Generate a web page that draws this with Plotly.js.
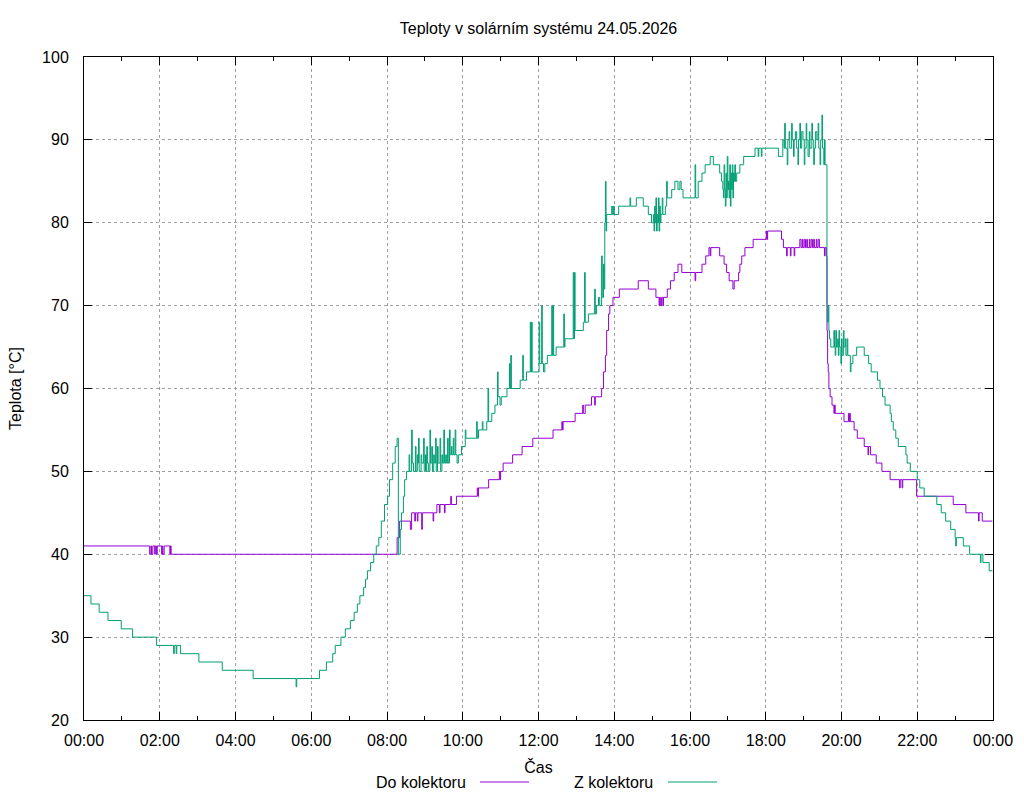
<!DOCTYPE html>
<html>
<head>
<meta charset="utf-8">
<script src="https://cdn.plot.ly/plotly-3.0.1.min.js"></script>
<style>html,body{margin:0;padding:0;background:#fff;}#chart{width:1024px;height:800px;}</style>
</head>
<body>
<div id="chart"></div>
<script>
// Time ("HH:MM") and temperature (°C) step points
const chartDate = "2026-05-24";
const seriesNames = ["Do kolektoru", "Z kolektoru"];
const xTickLabels = ["00:00","02:00","04:00","06:00","08:00","10:00","12:00","14:00","16:00","18:00","20:00","22:00","00:00"];

const doKolektoru = [
["00:00",41],["01:44",40],["01:46",41],["01:47",40],["01:49",41],["01:52",40],["01:53",41],["01:55",40],["01:56",41],["02:03",40],["02:04",41],["02:05",40],["02:07",41],["02:16",40],["02:17",41],["02:18",40],
["08:16",42],["08:20",44],["08:37",43],["08:39",45],["08:44",44],["08:45",45],["08:48",44],["08:49",45],["08:55",43],["08:56",45],["09:13",44],["09:14",45],["09:19",46],["09:23",45],["09:24",46],["09:31",45],["09:32",46],["09:41",47],["09:42",46],["09:50",47],
["10:23",48],["10:24",47],["10:25",48],["10:41",49],["10:58",50],["10:59",49],["11:00",50],["11:04",51],["11:19",52],["11:34",53],["11:51",54],["12:23",55],["12:37",56],["12:38",55],["12:39",56],["12:58",57],["13:10",58],["13:11",57],["13:14",58],["13:24",59],["13:29",58],["13:30",59],
["13:40",60],["13:43",62],["13:46",64],["13:48",67],["13:51",69],["13:53",70],["13:58",71],["14:08",72],["14:38",73],["14:54",72],["15:06",71],["15:11",70],["15:12",71],["15:13",70],["15:15",71],["15:17",70],["15:18",71],["15:24",72],["15:29",73],["15:35",74],["15:41",75],["15:47",74],["16:08",73],["16:09",74],["16:19",75],["16:25",76],["16:30",77],["16:32",76],["16:33",77],["16:47",76],["16:54",75],["16:58",74],["17:02",73],["17:08",72],["17:10",73],["17:17",74],["17:19",75],["17:22",76],["17:27",77],["17:40",78],["18:01",79],["18:02",78],["18:03",79],["18:25",78],["18:28",77],["18:33",76],["18:34",77],["18:39",76],["18:40",77],["18:45",76],["18:46",77],
["18:54",78],["18:56",77],["18:58",78],["18:59",77],["19:01",78],["19:03",77],["19:05",78],["19:06",77],["19:09",78],["19:10",77],["19:12",78],["19:14",77],["19:16",78],["19:17",77],["19:20",78],["19:21",77],["19:23",78],["19:25",77],["19:33",76],["19:34",77],["19:36",76],
["19:37",67],["19:38",63],["19:39",62],["19:40",60],["19:42",59],["19:45",58],["19:48",57],["19:49",58],["19:50",57],["20:04",56],["20:11",57],["20:12",56],["20:13",57],["20:14",56],["20:20",55],["20:25",54],["20:36",53],["20:42",52],["20:43",53],["20:46",52],["20:55",51],["21:04",50],["21:17",49],["21:32",48],["21:33",49],["21:36",48],["21:37",49],["21:59",47],["22:57",46],["23:17",45],["23:37",44],["23:38",45],["23:43",44],["23:59",44]
];

const zKolektoru = [
["00:00",35],["00:11",34],["00:24",33],["00:38",32],["00:59",31],["01:17",30],["01:55",29],["02:22",28],["02:23",29],["02:26",28],["02:27",29],["02:33",28],["03:02",27],["03:39",26],["04:28",25],["05:36",24],["05:37",25],
["06:13",26],["06:24",27],["06:34",28],["06:38",29],["06:47",30],["06:54",31],["07:02",32],["07:08",33],["07:13",34],["07:17",35],["07:23",36],["07:26",37],["07:29",38],["07:34",39],["07:39",40],["07:43",41],["07:47",42],["07:51",44],["07:56",46],["08:01",47],["08:04",49],["08:09",51],["08:13",53],["08:16",54],["08:18",40],["08:21",43],["08:23",45],["08:26",47],["08:28",49],["08:31",50],
["08:35",52],["08:36",50],["08:39",55],["08:40",51],["08:42",50],["08:45",53],["08:46",50],["08:48",52],["08:49",51],["08:50",54],["08:51",50],["08:54",52],["08:55",51],["08:58",54],["08:59",50],["09:01",52],["09:02",50],["09:03",53],["09:04",51],["09:06",50],["09:08",55],["09:09",51],["09:11",53],["09:12",50],["09:14",52],["09:15",51],["09:17",54],["09:18",50],["09:20",53],["09:21",51],["09:24",54],["09:25",50],["09:27",52],["09:28",51],["09:30",55],["09:31",51],["09:33",52],["09:34",51],["09:36",54],["09:37",51],["09:39",55],["09:40",52],["09:42",53],["09:43",52],["09:45",54],["09:46",52],["09:48",55],["09:49",52],["09:51",51],["09:53",52],["09:58",53],
["10:04",55],["10:05",54],["10:22",56],["10:23",54],["10:25",55],["10:31",56],["10:32",55],["10:38",56],["10:40",60],["10:41",56],["10:46",57],["10:51",58],["10:55",62],["10:56",59],["10:59",58],["11:01",59],["11:10",60],["11:14",63],["11:15",60],["11:16",64],["11:17",60],["11:31",61],["11:35",64],["11:36",61],["11:41",62],["11:47",68],["11:48",62],["11:49",68],["11:50",62],
["12:01",68],["12:02",63],["12:05",70],["12:06",63],["12:08",62],["12:10",63],["12:14",64],["12:21",70],["12:22",64],["12:23",70],["12:24",64],["12:28",65],["12:40",69],["12:41",65],["12:42",66],["12:55",74],["12:56",66],["12:57",74],["12:58",67],["13:11",68],["13:13",74],["13:14",68],["13:19",69],["13:29",72],["13:30",69],["13:32",70],["13:35",71],["13:37",70],["13:40",76],["13:41",71],["13:43",75],["13:44",72],["13:45",80],["13:46",85],["13:47",79],["13:48",81],
["13:56",82],["13:57",81],["13:59",82],["14:00",81],["14:07",82],["14:25",83],["14:26",82],["14:35",83],["14:46",82],["14:54",81],["14:59",80],["15:02",81],["15:03",79],["15:04",82],["15:05",80],["15:06",83],["15:07",79],["15:08",81],["15:09",80],["15:10",83],["15:11",79],["15:12",82],["15:13",80],["15:14",81],["15:16",83],["15:17",81],["15:21",82],["15:23",85],["15:24",83],["15:31",84],["15:36",85],["15:41",84],["15:44",85],["15:46",84],["15:49",83],
["16:08",87],["16:09",83],["16:13",85],["16:19",86],["16:24",87],["16:32",88],["16:37",87],["16:47",86],["16:50",85],["16:52",84],["16:53",83],["16:54",87],["16:55",84],["16:56",82],["16:57",86],["16:58",83],["16:59",88],["17:00",84],["17:01",85],["17:02",83],["17:03",87],["17:04",82],["17:05",86],["17:06",84],["17:07",87],["17:08",83],["17:09",86],["17:10",85],["17:11",87],["17:12",85],["17:14",86],["17:19",87],["17:25",88],["17:43",89],["17:48",88],["17:49",89],["17:53",88],["17:54",89],["18:20",88],
["18:25",88],["18:27",90],["18:29",89],["18:30",92],["18:31",89],["18:34",87],["18:35",90],["18:37",91],["18:38",89],["18:41",92],["18:42",90],["18:44",88],["18:45",90],["18:47",91],["18:49",89],["18:51",87],["18:52",90],["18:54",92],["18:55",89],["18:57",91],["18:59",90],
["19:01",87],["19:02",89],["19:04",92],["19:05",90],["19:07",88],["19:09",91],["19:10",89],["19:13",92],["19:14",90],["19:16",87],["19:17",89],["19:19",91],["19:21",90],["19:23",92],["19:24",89],["19:26",87],["19:27",90],["19:29",93],["19:30",89],["19:32",87],["19:33",90],["19:34",87],
["19:37",70],["19:38",68],["19:39",70],["19:40",67],["19:41",66],["19:43",65],["19:48",67],["19:49",65],["19:50",64],["19:51",67],["19:52",65],["19:54",66],["19:55",64],["19:56",67],["19:57",65],["19:59",63],["20:00",66],["20:01",64],["20:03",67],["20:04",65],["20:06",66],["20:07",64],["20:09",66],["20:10",64],["20:14",62],["20:15",63],["20:18",64],["20:24",65],["20:36",64],["20:43",63],["20:47",62],["20:57",61],
["21:01",60],["21:05",59],["21:09",58],["21:17",57],["21:19",56],["21:22",55],["21:26",54],["21:30",53],["21:42",52],["21:44",51],["21:49",50],["22:00",49],["22:04",48],["22:11",47],["22:31",46],["22:38",45],["22:45",44],["22:53",43],["23:00",42],["23:01",41],["23:02",42],["23:13",41],["23:23",40],["23:40",39],["23:41",40],["23:44",39],["23:54",38],["23:59",38]
];

const colors = ["#9400d3", "#009e73"];

function toX(t){ return chartDate + " " + t; }

const traces = [doKolektoru, zKolektoru].map(function(s, i){
  return {
    type: "scatter", mode: "lines", name: seriesNames[i],
    x: s.map(function(p){ return toX(p[0]); }),
    y: s.map(function(p){ return p[1]; }),
    line: {color: colors[i], width: 1, shape: "hv"},
    showlegend: false, hoverinfo: "skip"
  };
});

const tickVals = xTickLabels.map(function(l, i){
  const d = new Date(Date.UTC(2026, 4, 24, i*2, 0));
  return d.toISOString().slice(0,10) + " " + d.toISOString().slice(11,16);
});

const gridStyle = {gridcolor: "#a0a0a0", griddash: "3px,3px", gridwidth: 1};
const fs = 16;
const legendY = (720-782)/663;

const layout = {
  width: 1024, height: 800,
  margin: {l: 84, r: 31, t: 57, b: 80},
  paper_bgcolor: "#ffffff", plot_bgcolor: "#ffffff",
  font: {family: "Liberation Sans, Arial, sans-serif", size: fs, color: "#000"},
  title: {text: "Teploty v solárním systému 24.05.2026", x: 0.5, xref: "paper", y: 1 - 28/800, yref: "container", yanchor: "middle", xanchor: "center", font: {size: fs, color: "#000"}},
  xaxis: Object.assign({
    type: "date",
    range: [toX("00:00"), "2026-05-25 00:00"],
    tickmode: "array", tickvals: tickVals, ticktext: xTickLabels,
    ticks: "inside", ticklen: 8, tickcolor: "#000", tickwidth: 1,
    showline: true, linecolor: "#000", linewidth: 1, mirror: "ticks",
    showgrid: true, zeroline: false,
    minor: {dtick: 3600000, tick0: toX("00:00"), ticks: "inside", ticklen: 4, tickcolor: "#000", showgrid: false},
    ticklabelstandoff: 6,
    title: {text: "Čas", standoff: 13, font: {size: fs}}
  }, gridStyle),
  yaxis: Object.assign({
    range: [20, 100], dtick: 10, tick0: 20,
    ticks: "inside", ticklen: 8, tickcolor: "#000", tickwidth: 1,
    showline: true, linecolor: "#000", linewidth: 1, mirror: "ticks",
    showgrid: true, zeroline: false,
    ticklabelstandoff: 11,
    title: {text: "Teplota [°C]", standoff: 16, font: {size: fs}}
  }, gridStyle),
  showlegend: false,
  annotations: [
    {text: seriesNames[0], xref: "paper", yref: "paper", x: (468-84)/909, y: legendY, xanchor: "right", yanchor: "middle", showarrow: false, font: {size: fs}},
    {text: seriesNames[1], xref: "paper", yref: "paper", x: (655-84)/909, y: legendY, xanchor: "right", yanchor: "middle", showarrow: false, font: {size: fs}}
  ],
  shapes: [
    {type: "line", xref: "paper", yref: "paper", x0: (480-84)/909, x1: (529-84)/909, y0: legendY, y1: legendY, line: {color: colors[0], width: 1}},
    {type: "line", xref: "paper", yref: "paper", x0: (668-84)/909, x1: (717-84)/909, y0: legendY, y1: legendY, line: {color: colors[1], width: 1}}
  ]
};

Plotly.newPlot("chart", traces, layout, {displayModeBar: false, staticPlot: true});
</script>
</body>
</html>
